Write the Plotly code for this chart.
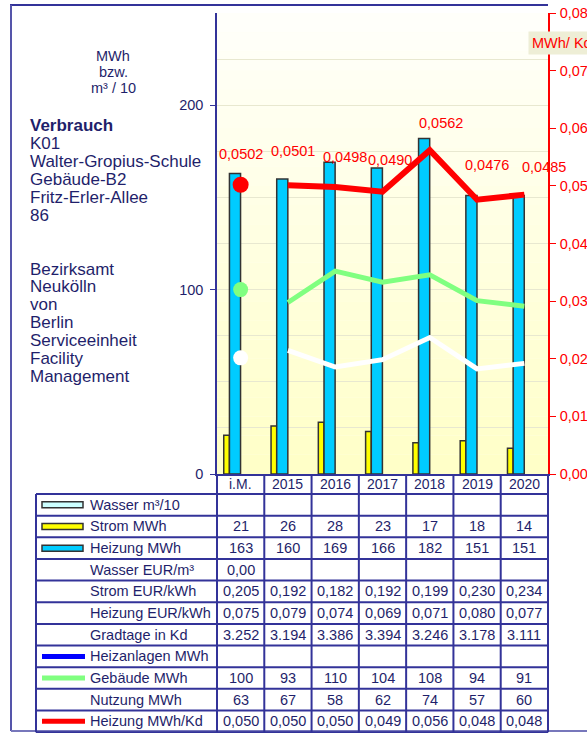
import plotly.graph_objects as go

# ---------------- data ----------------
categories = ["i.M.", "2015", "2016", "2017", "2018", "2019", "2020"]
wasser = [None, None, None, None, None, None, None]
strom = [21, 26, 28, 23, 17, 18, 14]
heizung = [163, 160, 169, 166, 182, 151, 151]
wasser_eur = [0.00, None, None, None, None, None, None]
strom_eur = [0.205, 0.192, 0.182, 0.192, 0.199, 0.230, 0.234]
heizung_eur = [0.075, 0.079, 0.074, 0.069, 0.071, 0.080, 0.077]
gradtage = [3252, 3194, 3386, 3394, 3246, 3178, 3111]
heizanlagen = [None, None, None, None, None, None, None]
gebaeude = [100, 93, 110, 104, 108, 94, 91]
nutzung = [63, 67, 58, 62, 74, 57, 60]
heizung_kd = [0.0502, 0.0501, 0.0498, 0.0490, 0.0562, 0.0476, 0.04848]

left_ticks = [0, 100, 200]

# ---------------- style ----------------
FONT = "Liberation Sans, Arial, sans-serif"
NAVY = "#333399"
TXT = "#1F1F6B"
RED = "#FF0000"
CYAN = "#00CCFF"
YEL = "#FFFF00"
LCYAN = "#CCFFFF"
GREEN = "#80FF80"
BLUE = "#0000FF"

W, H = 587, 733
PL, PR, PT, PB = 217, 548, 13, 474


def X(px):
    return (px - PL) / (PR - PL)


def Y(py):
    return (PB - py) / (PB - PT)


def fmt_int(v):
    return "" if v is None else f"{v:.0f}"


def fmt2(v):
    return "" if v is None else f"{v:.2f}".replace(".", ",")


def fmt3(v):
    return "" if v is None else f"{v:.3f}".replace(".", ",")


def fmt_th(v):
    return "" if v is None else f"{v:,.0f}".replace(",", ".")


fig = go.Figure()

# bars
fig.add_trace(go.Bar(x=categories, y=strom, width=0.12, offset=-0.357,
                     marker=dict(color=YEL, line=dict(color="#333333", width=1.5)),
                     yaxis="y"))
fig.add_trace(go.Bar(x=categories, y=heizung, width=0.235, offset=-0.237,
                     marker=dict(color=CYAN, line=dict(color="#333333", width=1.5)),
                     yaxis="y"))

# lines (left axis)
fig.add_trace(go.Scatter(x=categories[1:], y=gebaeude[1:], mode="lines",
                         line=dict(color=GREEN, width=5), yaxis="y"))
fig.add_trace(go.Scatter(x=categories[:1], y=gebaeude[:1], mode="markers",
                         marker=dict(color=GREEN, size=15), yaxis="y"))
fig.add_trace(go.Scatter(x=categories[1:], y=nutzung[1:], mode="lines",
                         line=dict(color="#FFFFFF", width=5), yaxis="y"))
fig.add_trace(go.Scatter(x=categories[:1], y=nutzung[:1], mode="markers",
                         marker=dict(color="#FFFFFF", size=15), yaxis="y"))
# red line (right axis)
fig.add_trace(go.Scatter(x=categories[1:], y=heizung_kd[1:], mode="lines",
                         line=dict(color=RED, width=6), yaxis="y2"))
fig.add_trace(go.Scatter(x=categories[:1], y=heizung_kd[:1], mode="markers",
                         marker=dict(color=RED, size=16), yaxis="y2"))

shapes = []
annotations = []

# background gradient bands inside plot area
n = 24
for i in range(n):
    t = i / (n - 1)
    b = int(round(250 - t * (250 - 200)))
    col = f"rgb(255,255,{b})"
    shapes.append(dict(type="rect", xref="paper", yref="paper", layer="below",
                       x0=0, x1=1, y0=1 - (i + 1) / n, y1=1 - i / n,
                       fillcolor=col, line=dict(width=0)))

# outer frame
shapes.append(dict(type="line", xref="paper", yref="paper",
                   x0=X(10), x1=X(548), y0=Y(5), y1=Y(5),
                   line=dict(color=NAVY, width=2)))
shapes.append(dict(type="line", xref="paper", yref="paper",
                   x0=X(11), x1=X(11), y0=Y(5), y1=Y(731),
                   line=dict(color="#5555AA", width=2)))
shapes.append(dict(type="line", xref="paper", yref="paper",
                   x0=X(11), x1=X(587), y0=Y(731), y1=Y(731),
                   line=dict(color="#7777BB", width=2)))

# ---------------- table ----------------
HEAD_TOP, HEAD_BOT = 474, 494
ROW_H = 21.65
ncat = len(categories)
LBL_L = 36

rows = [
    ("Wasser m³/10", wasser, fmt_int, ("rect", LCYAN)),
    ("Strom MWh", strom, fmt_int, ("rect", YEL)),
    ("Heizung MWh", heizung, fmt_int, ("rect", CYAN)),
    ("Wasser EUR/m³", wasser_eur, fmt2, None),
    ("Strom EUR/kWh", strom_eur, fmt3, None),
    ("Heizung EUR/kWh", heizung_eur, fmt3, None),
    ("Gradtage in Kd", gradtage, fmt_th, None),
    ("Heizanlagen MWh", heizanlagen, fmt_int, ("line", BLUE)),
    ("Gebäude MWh", gebaeude, fmt_int, ("line", GREEN)),
    ("Nutzung MWh", nutzung, fmt_int, None),
    ("Heizung MWh/Kd", heizung_kd, fmt3, ("line", RED)),
]

table_bottom = HEAD_BOT + ROW_H * len(rows)
TL = dict(color=NAVY, width=2)

for k in range(ncat + 1):
    shapes.append(dict(type="line", xref="paper", yref="paper",
                       x0=k / ncat, x1=k / ncat, y0=Y(HEAD_TOP), y1=Y(table_bottom),
                       line=TL))
for k, c in enumerate(categories):
    annotations.append(dict(xref="paper", yref="paper", x=(k + 0.5) / ncat,
                            y=Y((HEAD_TOP + HEAD_BOT) / 2), text=c, showarrow=False,
                            font=dict(family=FONT, size=14, color=TXT),
                            xanchor="center", yanchor="middle"))
shapes.append(dict(type="line", xref="paper", yref="paper",
                   x0=X(LBL_L), x1=X(LBL_L), y0=Y(HEAD_BOT), y1=Y(table_bottom),
                   line=TL))
for r in range(len(rows) + 1):
    yy = HEAD_BOT + r * ROW_H
    shapes.append(dict(type="line", xref="paper", yref="paper",
                       x0=X(LBL_L), x1=1, y0=Y(yy), y1=Y(yy), line=TL))

for r, (label, vals, f, sym) in enumerate(rows):
    yc = HEAD_BOT + (r + 0.5) * ROW_H
    annotations.append(dict(xref="paper", yref="paper", x=X(88), y=Y(yc),
                            text=label, showarrow=False, xanchor="left", yanchor="middle",
                            font=dict(family=FONT, size=14.5, color=TXT)))
    for k, v in enumerate(vals):
        s = f(v)
        if s:
            annotations.append(dict(xref="paper", yref="paper", x=(k + 0.5) / ncat,
                                    y=Y(yc), text=s, showarrow=False,
                                    xanchor="center", yanchor="middle",
                                    font=dict(family=FONT, size=14.5, color=TXT)))
    if sym is not None:
        kind, col = sym
        if kind == "rect":
            shapes.append(dict(type="rect", xref="paper", yref="paper",
                               x0=X(42), x1=X(83), y0=Y(yc - 3), y1=Y(yc + 3),
                               fillcolor=col, line=dict(color="#333333", width=1.5)))
        else:
            shapes.append(dict(type="line", xref="paper", yref="paper",
                               x0=X(42), x1=X(85), y0=Y(yc), y1=Y(yc),
                               line=dict(color=col, width=5)))

# ---------------- red value labels ----------------
label_dx = [0, 5, 10, 7, 11, 10, 20]
label_dy = [31, 34, 30, 32, 27, 35, 28]
for k, v in enumerate(heizung_kd):
    annotations.append(dict(xref="x", yref="y2", x=k, y=v,
                            text=f"{v:.4f}".replace(".", ","), showarrow=False,
                            xshift=label_dx[k], yshift=label_dy[k],
                            xanchor="center", yanchor="middle",
                            font=dict(family=FONT, size=14.5, color=RED)))

# ---------------- left text block ----------------
for i, t in enumerate(["MWh", "bzw.", "m³ / 10"]):
    annotations.append(dict(xref="paper", yref="paper", x=X(113), y=Y(56 + i * 16),
                            text=t, showarrow=False, xanchor="center", yanchor="middle",
                            font=dict(family=FONT, size=14.5, color=TXT)))
block1 = ["<b>Verbrauch</b>", "K01", "Walter-Gropius-Schule", "Gebäude-B2",
          "Fritz-Erler-Allee", "86"]
for i, t in enumerate(block1):
    annotations.append(dict(xref="paper", yref="paper", x=X(28), y=Y(126 + i * 17.8),
                            text=t, showarrow=False, xanchor="left", yanchor="middle",
                            font=dict(family=FONT, size=17, color=TXT)))
block2 = ["Bezirksamt", "Neukölln", "von", "Berlin", "Serviceeinheit", "Facility",
          "Management"]
for i, t in enumerate(block2):
    annotations.append(dict(xref="paper", yref="paper", x=X(28), y=Y(269 + i * 17.9),
                            text=t, showarrow=False, xanchor="left", yanchor="middle",
                            font=dict(family=FONT, size=17, color=TXT)))

# MWh/ Kd box
annotations.append(dict(xref="paper", yref="paper", x=X(528), y=Y(43),
                        text="MWh/ Kd&nbsp;&nbsp;&nbsp;", showarrow=False,
                        xanchor="left", yanchor="middle", bgcolor="#EEEED6",
                        borderpad=3,
                        font=dict(family=FONT, size=14.5, color=RED)))

fig.update_layout(
    width=W, height=H,
    margin=dict(l=PL, r=W - PR, t=PT, b=H - PB, pad=0, autoexpand=False),
    paper_bgcolor="#FFFFFF",
    plot_bgcolor="#FFFFF0",
    barmode="overlay",
    showlegend=False,
    hovermode=False,
    separators=",.",
    font=dict(family=FONT, size=14.5, color=TXT),
    xaxis=dict(type="category", range=[-0.5, 6.5], showticklabels=False, ticks="",
               showgrid=False, showline=True, linecolor=NAVY, linewidth=2,
               fixedrange=True, automargin=False),
    yaxis=dict(range=[0, 250], tickvals=left_ticks, ticks="outside", ticklen=5,
               tickcolor=NAVY, showline=True, linecolor=NAVY, linewidth=1.5,
               gridcolor="#E8E8D0", gridwidth=1,
               minor=dict(dtick=25, showgrid=True, gridcolor="#E8E8D0"),
               tickfont=dict(family=FONT, size=14.5, color=TXT),
               ticklabelstandoff=4, zeroline=False, automargin=False),
    yaxis2=dict(range=[0, 0.08], overlaying="y", side="right", dtick=0.01,
                tickformat=".3f", ticks="outside", ticklen=6, tickcolor=RED,
                showline=True, linecolor=RED, linewidth=1.5, showgrid=False,
                tickfont=dict(family=FONT, size=14.5, color=RED),
                ticklabeloverflow="allow",
                ticklabelstandoff=1, zeroline=False, automargin=False),
    shapes=shapes,
    annotations=annotations,
)

fig.write_html("out.html", config={"displayModeBar": False},
               post_script="document.body.style.margin='0';document.body.style.overflow='hidden';")
